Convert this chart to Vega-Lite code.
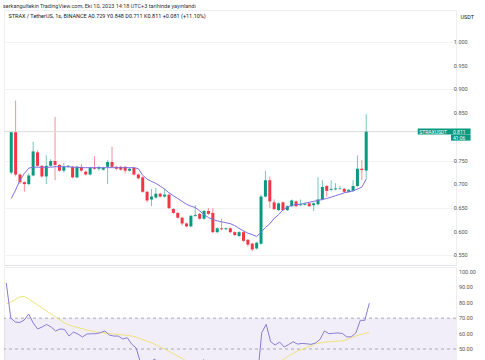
{
"$schema": "https://vega.github.io/schema/vega-lite/v6.json",
"background": "white",
"padding": {"left": 3, "top": 3, "right": 0, "bottom": 0},
"title": {"text": "serkangultekin TradingView.com, Eki 10, 2023 14:18 UTC+3 tarihinde yayınlandı", "anchor": "start", "fontSize": 5.5, "fontWeight": "normal", "color": "#333333", "font": "Roboto", "offset": 0.5},
"datasets": {
"k": [
{"i":0,"o":0.7247,"h":0.8117,"l":0.7206,"c":0.8097,"ma":0.670,"rsi":92.9,"rm":79.2},
{"i":1,"o":0.8097,"h":0.8765,"l":0.7166,"c":0.7206,"ma":0.688,"rsi":70.1,"rm":80.5},
{"i":2,"o":0.7206,"h":0.7227,"l":0.7004,"c":0.7045,"ma":0.709,"rsi":67.5,"rm":82.1},
{"i":3,"o":0.7045,"h":0.7065,"l":0.6842,"c":0.7004,"ma":0.723,"rsi":67.2,"rm":83.8},
{"i":4,"o":0.7004,"h":0.7227,"l":0.6984,"c":0.7186,"ma":0.734,"rsi":68.8,"rm":84.1},
{"i":5,"o":0.7186,"h":0.7895,"l":0.7166,"c":0.7692,"ma":0.736,"rsi":72.7,"rm":82.5},
{"i":6,"o":0.7672,"h":0.7713,"l":0.7368,"c":0.7389,"ma":0.736,"rsi":66.9,"rm":80.5},
{"i":7,"o":0.7389,"h":0.7409,"l":0.7146,"c":0.7166,"ma":0.736,"rsi":63.0,"rm":78.6},
{"i":8,"o":0.7166,"h":0.7611,"l":0.7004,"c":0.7389,"ma":0.736,"rsi":64.3,"rm":76.6},
{"i":9,"o":0.7389,"h":0.7530,"l":0.7368,"c":0.7490,"ma":0.736,"rsi":65.9,"rm":74.7},
{"i":10,"o":0.7490,"h":0.8421,"l":0.7085,"c":0.7409,"ma":0.737,"rsi":64.3,"rm":72.7},
{"i":11,"o":0.7409,"h":0.7429,"l":0.7267,"c":0.7287,"ma":0.737,"rsi":61.7,"rm":70.8},
{"i":12,"o":0.7287,"h":0.7449,"l":0.7247,"c":0.7368,"ma":0.737,"rsi":63.0,"rm":68.8},
{"i":13,"o":0.7368,"h":0.7409,"l":0.7348,"c":0.7389,"ma":0.737,"rsi":62.7,"rm":66.9},
{"i":14,"o":0.7368,"h":0.7389,"l":0.7126,"c":0.7146,"ma":0.736,"rsi":58.4,"rm":65.6},
{"i":15,"o":0.7146,"h":0.7389,"l":0.7126,"c":0.7368,"ma":0.736,"rsi":61.0,"rm":64.6},
{"i":16,"o":0.7368,"h":0.7429,"l":0.7267,"c":0.7287,"ma":0.735,"rsi":59.7,"rm":64.0},
{"i":17,"o":0.7267,"h":0.7287,"l":0.7186,"c":0.7206,"ma":0.735,"rsi":57.8,"rm":63.1},
{"i":18,"o":0.7206,"h":0.7368,"l":0.7186,"c":0.7348,"ma":0.735,"rsi":59.7,"rm":62.3},
{"i":19,"o":0.7348,"h":0.7591,"l":0.7308,"c":0.7328,"ma":0.735,"rsi":59.9,"rm":61.7},
{"i":20,"o":0.7328,"h":0.7389,"l":0.7287,"c":0.7358,"ma":0.735,"rsi":59.9,"rm":61.0},
{"i":21,"o":0.7308,"h":0.7368,"l":0.7287,"c":0.7348,"ma":0.735,"rsi":60.6,"rm":60.7},
{"i":22,"o":0.7368,"h":0.7510,"l":0.7004,"c":0.7470,"ma":0.735,"rsi":61.7,"rm":60.4},
{"i":23,"o":0.7470,"h":0.7794,"l":0.7348,"c":0.7368,"ma":0.735,"rsi":59.1,"rm":60.1},
{"i":24,"o":0.7368,"h":0.7389,"l":0.7308,"c":0.7328,"ma":0.735,"rsi":58.4,"rm":59.7},
{"i":25,"o":0.7368,"h":0.7389,"l":0.7287,"c":0.7308,"ma":0.735,"rsi":58.4,"rm":59.5},
{"i":26,"o":0.7368,"h":0.7389,"l":0.7227,"c":0.7287,"ma":0.735,"rsi":56.5,"rm":59.1},
{"i":27,"o":0.7287,"h":0.7348,"l":0.7267,"c":0.7328,"ma":0.735,"rsi":57.3,"rm":58.8},
{"i":28,"o":0.7348,"h":0.7368,"l":0.7186,"c":0.7206,"ma":0.735,"rsi":53.1,"rm":58.4},
{"i":29,"o":0.7206,"h":0.7227,"l":0.7105,"c":0.7126,"ma":0.733,"rsi":50.6,"rm":57.8},
{"i":30,"o":0.7146,"h":0.7166,"l":0.6822,"c":0.6842,"ma":0.719,"rsi":40.5,"rm":56.5},
{"i":31,"o":0.6842,"h":0.6862,"l":0.6620,"c":0.6660,"ma":0.711,"rsi":36.0,"rm":55.5},
{"i":32,"o":0.6680,"h":0.6903,"l":0.6538,"c":0.6741,"ma":0.706,"rsi":39.0,"rm":54.5},
{"i":33,"o":0.6721,"h":0.6923,"l":0.6700,"c":0.6802,"ma":0.702,"rsi":43.5,"rm":53.2},
{"i":34,"o":0.6802,"h":0.6822,"l":0.6721,"c":0.6741,"ma":0.696,"rsi":41.5,"rm":51.9},
{"i":35,"o":0.6741,"h":0.6903,"l":0.6721,"c":0.6781,"ma":0.690,"rsi":42.0,"rm":50.3},
{"i":36,"o":0.6781,"h":0.6802,"l":0.6478,"c":0.6498,"ma":0.682,"rsi":34.5,"rm":49.0},
{"i":37,"o":0.6478,"h":0.6498,"l":0.6377,"c":0.6397,"ma":0.676,"rsi":32.5,"rm":47.4},
{"i":38,"o":0.6397,"h":0.6417,"l":0.6275,"c":0.6296,"ma":0.670,"rsi":30.5,"rm":45.8},
{"i":39,"o":0.6296,"h":0.6316,"l":0.6134,"c":0.6174,"ma":0.664,"rsi":28.5,"rm":44.2},
{"i":40,"o":0.6174,"h":0.6194,"l":0.6093,"c":0.6113,"ma":0.658,"rsi":27.5,"rm":42.5},
{"i":41,"o":0.6113,"h":0.6356,"l":0.6093,"c":0.6336,"ma":0.654,"rsi":37.0,"rm":40.9},
{"i":42,"o":0.6336,"h":0.6559,"l":0.6316,"c":0.6356,"ma":0.651,"rsi":39.0,"rm":40.0},
{"i":43,"o":0.6377,"h":0.6397,"l":0.6255,"c":0.6275,"ma":0.644,"rsi":37.5,"rm":39.0},
{"i":44,"o":0.6275,"h":0.6457,"l":0.6255,"c":0.6437,"ma":0.636,"rsi":43.0,"rm":38.5},
{"i":45,"o":0.6437,"h":0.6498,"l":0.6356,"c":0.6377,"ma":0.630,"rsi":41.0,"rm":38.0},
{"i":46,"o":0.6397,"h":0.6498,"l":0.5972,"c":0.5992,"ma":0.626,"rsi":32.0,"rm":37.0},
{"i":47,"o":0.5992,"h":0.6093,"l":0.5972,"c":0.6073,"ma":0.623,"rsi":35.0,"rm":36.5},
{"i":48,"o":0.6073,"h":0.6275,"l":0.6032,"c":0.6053,"ma":0.621,"rsi":34.0,"rm":36.0},
{"i":49,"o":0.6053,"h":0.6093,"l":0.6032,"c":0.6073,"ma":0.619,"rsi":35.0,"rm":35.5},
{"i":50,"o":0.6073,"h":0.6093,"l":0.5972,"c":0.5992,"ma":0.617,"rsi":33.0,"rm":35.0},
{"i":51,"o":0.5992,"h":0.6012,"l":0.5911,"c":0.5931,"ma":0.613,"rsi":31.5,"rm":34.8},
{"i":52,"o":0.5911,"h":0.6012,"l":0.5891,"c":0.5992,"ma":0.607,"rsi":34.0,"rm":34.5},
{"i":53,"o":0.5992,"h":0.6012,"l":0.5790,"c":0.5810,"ma":0.602,"rsi":30.0,"rm":34.0},
{"i":54,"o":0.5830,"h":0.5850,"l":0.5688,"c":0.5729,"ma":0.597,"rsi":27.5,"rm":33.5},
{"i":55,"o":0.5749,"h":0.5769,"l":0.5587,"c":0.5628,"ma":0.594,"rsi":25.5,"rm":33.0},
{"i":56,"o":0.5648,"h":0.5790,"l":0.5628,"c":0.5769,"ma":0.590,"rsi":30.0,"rm":33.0},
{"i":57,"o":0.5749,"h":0.6781,"l":0.5729,"c":0.6741,"ma":0.599,"rsi":60.6,"rm":35.0},
{"i":58,"o":0.6741,"h":0.7287,"l":0.6721,"c":0.7085,"ma":0.609,"rsi":66.0,"rm":37.0},
{"i":59,"o":0.7085,"h":0.7166,"l":0.6500,"c":0.6640,"ma":0.617,"rsi":54.7,"rm":38.5},
{"i":60,"o":0.6619,"h":0.6680,"l":0.6457,"c":0.6478,"ma":0.628,"rsi":52.6,"rm":40.0},
{"i":61,"o":0.6457,"h":0.6619,"l":0.6437,"c":0.6599,"ma":0.636,"rsi":54.5,"rm":41.5},
{"i":62,"o":0.6619,"h":0.6640,"l":0.6437,"c":0.6457,"ma":0.646,"rsi":51.3,"rm":43.5},
{"i":63,"o":0.6457,"h":0.6559,"l":0.6437,"c":0.6538,"ma":0.652,"rsi":52.9,"rm":45.5},
{"i":64,"o":0.6538,"h":0.6680,"l":0.6518,"c":0.6660,"ma":0.656,"rsi":54.7,"rm":47.1},
{"i":65,"o":0.6640,"h":0.6660,"l":0.6518,"c":0.6538,"ma":0.657,"rsi":53.2,"rm":48.7},
{"i":66,"o":0.6559,"h":0.6680,"l":0.6538,"c":0.6579,"ma":0.658,"rsi":53.6,"rm":49.8},
{"i":67,"o":0.6569,"h":0.6619,"l":0.6548,"c":0.6589,"ma":0.660,"rsi":53.4,"rm":51.0},
{"i":68,"o":0.6599,"h":0.6619,"l":0.6518,"c":0.6538,"ma":0.662,"rsi":53.0,"rm":51.9},
{"i":69,"o":0.6559,"h":0.6619,"l":0.6437,"c":0.6599,"ma":0.664,"rsi":53.9,"rm":53.4},
{"i":70,"o":0.6579,"h":0.7146,"l":0.6559,"c":0.6680,"ma":0.666,"rsi":56.2,"rm":53.9},
{"i":71,"o":0.6680,"h":0.7085,"l":0.6660,"c":0.6943,"ma":0.668,"rsi":61.7,"rm":54.4},
{"i":72,"o":0.6964,"h":0.6984,"l":0.6741,"c":0.6862,"ma":0.670,"rsi":59.9,"rm":54.7},
{"i":73,"o":0.6883,"h":0.7085,"l":0.6862,"c":0.6903,"ma":0.673,"rsi":60.2,"rm":54.9},
{"i":74,"o":0.6893,"h":0.7024,"l":0.6872,"c":0.6913,"ma":0.676,"rsi":60.4,"rm":55.1},
{"i":75,"o":0.6903,"h":0.6964,"l":0.6883,"c":0.6913,"ma":0.679,"rsi":60.1,"rm":55.2},
{"i":76,"o":0.6903,"h":0.6923,"l":0.6822,"c":0.6842,"ma":0.682,"rsi":57.8,"rm":56.2},
{"i":77,"o":0.6842,"h":0.6903,"l":0.6822,"c":0.6883,"ma":0.684,"rsi":58.0,"rm":57.4},
{"i":78,"o":0.6862,"h":0.7085,"l":0.6842,"c":0.6964,"ma":0.686,"rsi":60.4,"rm":58.4},
{"i":79,"o":0.6964,"h":0.7611,"l":0.6943,"c":0.7328,"ma":0.690,"rsi":68.6,"rm":59.4},
{"i":80,"o":0.7328,"h":0.7510,"l":0.7085,"c":0.7300,"ma":0.694,"rsi":68.6,"rm":60.1},
{"i":81,"o":0.729,"h":0.848,"l":0.711,"c":0.811,"ma":0.711,"rsi":79.7,"rm":60.6}
],
"last": [{"label": "STRAXUSDT", "price": 0.811, "value": "0.811", "cd": "41:06"}],
"pticks": [{"v":0.55,"t":"0.550"},{"v":0.6,"t":"0.600"},{"v":0.65,"t":"0.650"},{"v":0.7,"t":"0.700"},{"v":0.75,"t":"0.750"},{"v":0.85,"t":"0.850"},{"v":0.9,"t":"0.900"},{"v":0.95,"t":"0.950"},{"v":1.0,"t":"1.000"}],
"rticks": [{"v":50,"t":"50.00"},{"v":60,"t":"60.00"},{"v":70,"t":"70.00"},{"v":80,"t":"80.00"},{"v":90,"t":"90.00"},{"v":100,"t":"100.00"}],
"levels": [{"lv": 70}, {"lv": 50}, {"lv": 30}],
"band": [{"lo": 30, "hi": 70}]
},
"spacing": 0,
"resolve": {"scale": {"y": "independent"}},
"vconcat": [
{
"width": 452, "height": 255,
"title": {"text": "STRAX / TetherUS, 1s, BINANCE   A0.729   Y0.848   D0.711   K0.811   +0.081 (+11.10%)", "anchor": "start", "offset": -9, "dx": 5, "fontSize": 5.5, "fontWeight": "normal", "color": "#131722", "font": "Roboto"},
"data": {"name": "k"},
"layer": [
{"mark": {"type": "rule", "strokeWidth": 1, "opacity": 0.55},
 "encoding": {
  "x": {"field": "i", "type": "quantitative", "scale": {"domain": [-0.51, 100.35], "nice": false, "zero": false},
        "axis": {"orient": "bottom", "labels": false, "ticks": false, "grid": false, "title": null, "domainColor": "#e0e3eb"}},
  "y": {"field": "l", "type": "quantitative", "scale": {"domain": [0.5405, 1.0567], "nice": false, "zero": false},
        "axis": {"orient": "right", "values": [0.55, 0.6, 0.65, 0.7, 0.75, 0.85, 0.9, 0.95, 1.0], "labels": false,
                 "title": "USDT", "titleAngle": 0, "titleX": 4, "titleY": 6, "titleAlign": "left", "titleBaseline": "middle",
                 "titleFontSize": 5.5, "titleFontWeight": "normal", "titleColor": "#131722", "titleFont": "Roboto",
                 "ticks": false, "domain": false, "grid": true, "gridColor": "#f3f3f6"}},
  "y2": {"field": "h"},
  "color": {"condition": {"test": "datum.c >= datum.o", "value": "#089981"}, "value": "#f23645"}
 }},
{"data": {"name": "last"}, "mark": {"type": "rule", "color": "#dcdcdc", "strokeWidth": 1},
 "encoding": {"y": {"field": "price", "type": "quantitative"}}},
{"mark": {"type": "bar", "width": 3},
 "encoding": {
  "x": {"field": "i", "type": "quantitative"},
  "y": {"field": "o", "type": "quantitative"},
  "y2": {"field": "c"},
  "color": {"condition": {"test": "datum.c >= datum.o", "value": "#089981"}, "value": "#f23645"}
 }},
{"mark": {"type": "line", "color": "#7e6fe6", "strokeWidth": 1},
 "encoding": {"x": {"field": "i", "type": "quantitative"}, "y": {"field": "ma", "type": "quantitative"}}},
{"data": {"name": "pticks"}, "mark": {"type": "text", "color": "#555555", "fontSize": 5.5, "font": "Roboto", "align": "left", "baseline": "middle"},
 "encoding": {"x": {"datum": 101.0}, "y": {"field": "v", "type": "quantitative"}, "text": {"field": "t"}}},
{"data": {"name": "last"}, "mark": {"type": "bar", "height": 6, "color": "#089981"},
 "encoding": {"x": {"datum": 92.76}, "x2": {"datum": 104.81}, "y": {"field": "price", "type": "quantitative"}}},
{"data": {"name": "last"}, "mark": {"type": "bar", "height": 6, "yOffset": 6, "color": "#089981"},
 "encoding": {"x": {"datum": 100.35}, "x2": {"datum": 104.81}, "y": {"field": "price", "type": "quantitative"}}},
{"data": {"name": "last"}, "mark": {"type": "text", "color": "white", "fontSize": 5, "font": "Roboto", "align": "left", "baseline": "middle"},
 "encoding": {"x": {"datum": 93.1}, "y": {"field": "price", "type": "quantitative"}, "text": {"field": "label"}}},
{"data": {"name": "last"}, "mark": {"type": "text", "color": "white", "fontSize": 5, "font": "Roboto", "align": "left", "baseline": "middle"},
 "encoding": {"x": {"datum": 100.8}, "y": {"field": "price", "type": "quantitative"}, "text": {"field": "value"}}},
{"data": {"name": "last"}, "mark": {"type": "text", "color": "white", "fontSize": 5, "font": "Roboto", "align": "left", "baseline": "middle", "yOffset": 6},
 "encoding": {"x": {"datum": 100.8}, "y": {"field": "price", "type": "quantitative"}, "text": {"field": "cd"}}}
]
},
{
"width": 452, "height": 94,
"data": {"name": "k"},
"layer": [
{"data": {"name": "band"}, "mark": {"type": "rect", "color": "#7e57c2", "opacity": 0.1, "clip": true},
 "encoding": {
  "y": {"field": "lo", "type": "quantitative", "scale": {"domain": [42.2, 103.25], "nice": false, "zero": false}, "axis": null},
  "y2": {"field": "hi"}
 }},
{"data": {"name": "levels"}, "mark": {"type": "rule", "color": "#9598a1", "strokeDash": [3, 3], "strokeWidth": 0.8, "clip": true},
 "encoding": {"y": {"field": "lv", "type": "quantitative"}}},
{"mark": {"type": "line", "color": "#efe27a", "strokeWidth": 1, "clip": true},
 "encoding": {"x": {"field": "i", "type": "quantitative", "scale": {"domain": [-0.51, 100.35], "nice": false, "zero": false}, "axis": null},
              "y": {"field": "rm", "type": "quantitative"}}},
{"mark": {"type": "line", "color": "#8a7cd6", "strokeWidth": 1, "clip": true},
 "encoding": {"x": {"field": "i", "type": "quantitative"}, "y": {"field": "rsi", "type": "quantitative"}}},
{"data": {"name": "rticks"}, "mark": {"type": "text", "color": "#555555", "fontSize": 5.5, "font": "Roboto", "align": "left", "baseline": "middle"},
 "encoding": {"x": {"datum": 101.0}, "y": {"field": "v", "type": "quantitative"}, "text": {"field": "t"}}}
]
}
],
"config": {"view": {"stroke": "#eeeeee"}, "font": "Roboto"}
}
